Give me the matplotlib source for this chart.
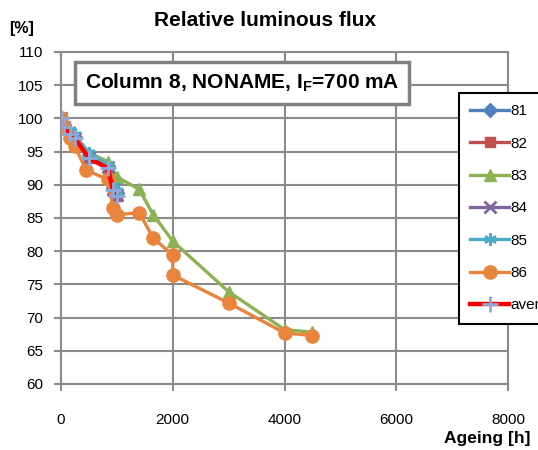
import numpy as np
import matplotlib
matplotlib.use("Agg")
import matplotlib.pyplot as plt

plt.rcParams['font.family'] = ['Liberation Sans', 'DejaVu Sans']
plt.rcParams['mathtext.fontset'] = 'custom'
plt.rcParams['mathtext.bf'] = 'Liberation Sans:bold'
plt.rcParams['mathtext.rm'] = 'Liberation Sans:bold'

t_short = [0, 48, 168, 250, 500, 840, 930, 1000]
flux_81 = [100, 98.8, 97.8, 97.2, 94.5, 92.8, 89.5, 88.8]
flux_82 = [100, 98.5, 97.5, 96.8, 94.0, 92.5, 89.0, 88.3]
flux_84 = [100, 98.7, 97.6, 97.0, 94.2, 92.7, 89.3, 88.5]
flux_85 = [100, 99.0, 98.2, 97.5, 94.8, 93.0, 89.8, 89.0]
flux_avg = [100, 98.7, 97.7, 97.0, 94.0, 92.5, 89.2, 88.3]

t_83 = [0, 48, 168, 250, 500, 840, 1000, 1400, 1650, 2000, 3000, 4000, 4500]
flux_83 = [100, 98.8, 97.8, 97.3, 94.8, 93.5, 91.2, 89.3, 85.5, 81.5, 73.9, 68.2, 67.8]

t_86 = [0, 48, 168, 250, 450, 840, 930, 1000, 1400, 1650, 2000, 2000, 3000, 4000, 4500]
flux_86 = [100, 98.6, 97.0, 95.8, 92.2, 90.8, 86.5, 85.5, 85.8, 82.0, 79.4, 76.4, 72.2, 67.7, 67.3]

x_ticks = [0, 2000, 4000, 6000, 8000]
y_ticks = list(range(60, 111, 5))

fig = plt.figure(figsize=(5.38, 4.5), dpi=100)
ax = fig.add_axes([61/538, 1-384/450, (508-61)/538, (384-52)/450])

lw = 2.4
ax.plot(t_short, flux_81, color='#4F81BD', lw=lw, marker='D', ms=7, label='81', zorder=3)
ax.plot(t_short, flux_82, color='#C0504D', lw=lw, marker='s', ms=7, label='82', zorder=3)
ax.plot(t_83, flux_83, color='#8DB255', lw=lw, marker='^', ms=9, label='83', zorder=3)
ax.plot(t_short, flux_84, color='#8064A2', lw=lw, marker='x', ms=8, mew=2, label='84', zorder=3)
ax.plot(t_short, flux_85, color='#4BACC6', lw=lw, marker=(6, 2, 0), ms=9, mew=1.8, label='85', zorder=3)
ax.plot(t_86, flux_86, color='#E8843C', lw=lw, marker='o', ms=9.5, label='86', zorder=3)
ax.plot(t_short, flux_avg, color='#FF0000', lw=3.2, marker='+', ms=11, mew=2,
        mec='#8EA9DB', label='average', zorder=4)

ax.set_xlim(0, 8000)
ax.set_ylim(60, 110)
ax.set_xticks(x_ticks)
ax.set_yticks(y_ticks)
ax.grid(True, color='#8A8A8A', lw=1.5)
ax.set_axisbelow(True)
for s in ax.spines.values():
    s.set_color('#8A8A8A')
    s.set_linewidth(1.5)
ax.tick_params(axis='both', colors='#8A8A8A', width=1.5, length=5, labelsize=11,
               labelcolor='black')
ax.tick_params(axis='x', pad=16)
ax.tick_params(axis='y', pad=8)

fig.text(265/538, 1-20/450, 'Relative luminous flux', ha='center', va='center',
         fontsize=15, fontweight='bold')
fig.text(22/538, 1-28/450, '[%]', ha='center', va='center', fontsize=11.5, fontweight='bold')
fig.text(530/538, 1-438/450, 'Ageing [h]', ha='right', va='center', fontsize=12.5,
         fontweight='bold')

fig.text(242/538, 1-83/450, r'Column 8, NONAME, I$_{\mathbf{F}}$=700 mA', ha='center',
         va='center', fontsize=15, fontweight='bold',
         bbox=dict(boxstyle='square,pad=0.45', fc='white', ec='#808080', lw=2.5))

leg = ax.legend(loc='upper left', bbox_to_anchor=(459/538, 1-93/450),
                bbox_transform=fig.transFigure, borderaxespad=0, fancybox=False,
                edgecolor='black', framealpha=1, fontsize=11, handlelength=2.5,
                labelspacing=1.2, borderpad=0.75, handletextpad=0.1)
leg.get_frame().set_linewidth(1.5)

fig.savefig('out.png', dpi=100)
